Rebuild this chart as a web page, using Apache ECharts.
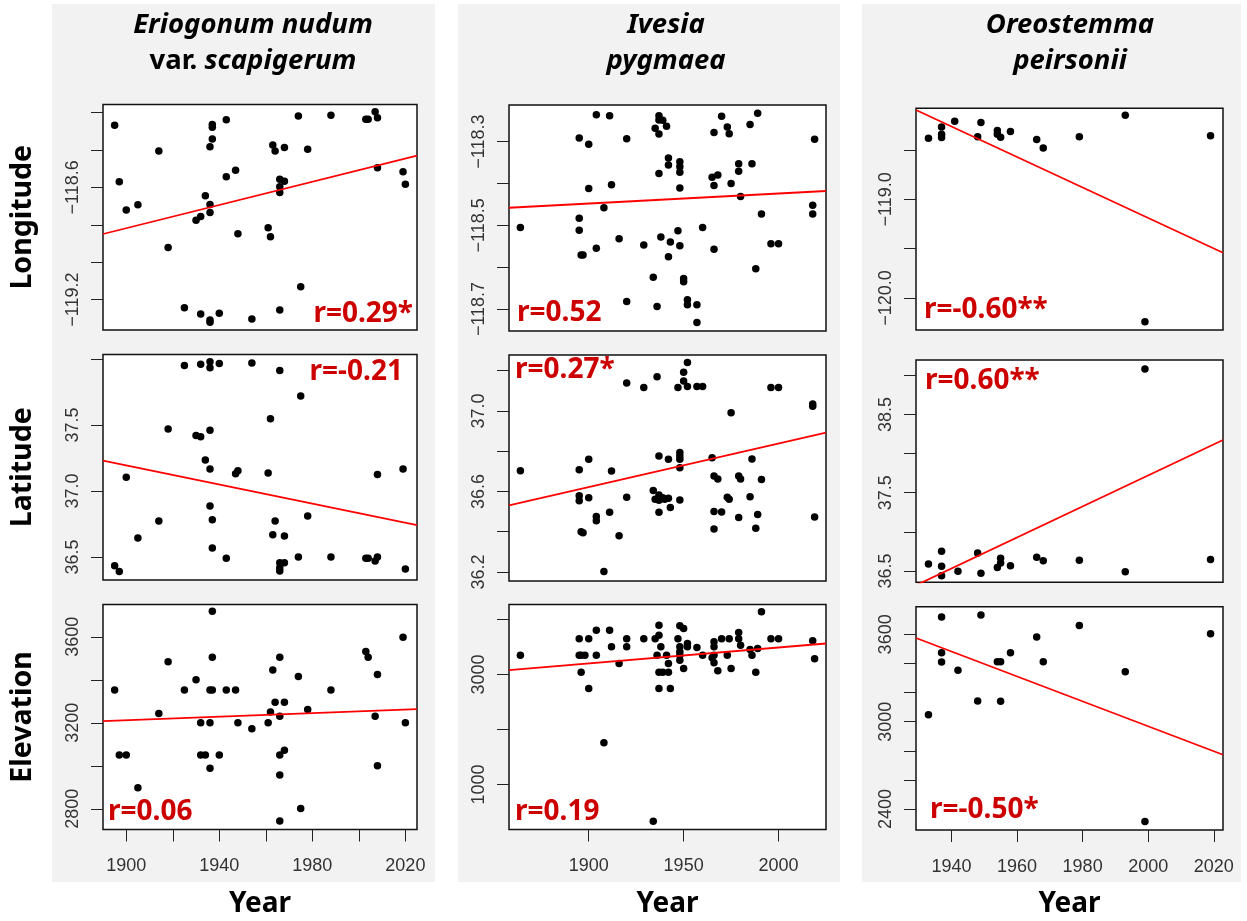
<!DOCTYPE html>
<html><head><meta charset="utf-8">
<script src="https://cdn.jsdelivr.net/npm/echarts@6/dist/echarts.min.js"></script>
<style>html,body{margin:0;padding:0;background:#fff}#c{width:1247px;height:921px}</style>
</head><body><div id="c"></div><script>
// ---------- Eriogonum nudum var. scapigerum ----------
const eriLonYear = [1895,1897,1900,1905,1914,1918,1925,1930,1932,1932,1934,1936,1936,1936,1936,1936,1937,1937,1937,1940,1943,1943,1947,1948,1954,1961,1962,1963,1964,1966,1966,1966,1966,1968,1968,1974,1975,1978,1988,2003,2004,2007,2008,2008,2019,2020];
const eriLon = [-118.268,-118.570,-118.721,-118.693,-118.405,-118.921,-119.243,-118.775,-118.755,-119.277,-118.645,-118.383,-118.691,-118.734,-119.309,-119.321,-118.264,-118.278,-118.342,-119.273,-118.239,-118.543,-118.508,-118.848,-119.303,-118.816,-118.864,-118.374,-118.406,-118.556,-118.597,-118.627,-119.255,-118.567,-118.387,-118.218,-119.131,-118.396,-118.214,-118.236,-118.236,-118.196,-118.228,-118.495,-118.517,-118.583];
const eriLatYear = [1895,1897,1900,1905,1914,1918,1925,1930,1932,1932,1934,1936,1936,1936,1936,1936,1937,1937,1940,1943,1947,1948,1954,1961,1962,1963,1964,1966,1966,1966,1966,1968,1968,1974,1975,1978,1988,2003,2004,2007,2008,2008,2019,2020];
const eriLat = [36.434,36.391,37.104,36.644,36.773,37.470,37.952,37.422,37.412,37.962,37.235,37.167,37.460,36.886,37.980,37.934,36.783,36.568,37.967,36.490,37.131,37.154,37.970,37.136,37.548,36.669,36.773,37.914,36.457,36.419,36.394,36.659,36.457,36.500,37.720,36.811,36.500,36.490,36.490,36.470,36.500,37.126,37.167,36.409];
const eriEleYear = [1895,1897,1900,1905,1914,1918,1925,1930,1932,1932,1934,1936,1936,1936,1937,1937,1937,1940,1943,1947,1948,1954,1961,1962,1963,1964,1966,1966,1966,1966,1966,1968,1968,1974,1975,1978,1988,2003,2004,2007,2008,2008,2019,2020];
const eriEle = [3352,3050,3050,2898,3243,3484,3352,3400,3200,3050,3050,3200,2989,3352,3352,3505,3719,3050,3352,3352,3200,3172,3200,3250,3445,3295,3505,3231,3050,2957,2744,3295,3073,3415,2802,3262,3352,3532,3505,3231,3425,3000,3598,3200];
const eriLonFit = [[1890,-118.849],[2025,-118.430]];
const eriLatFit = [[1890,37.230],[2025,36.742]];
const eriEleFit = [[1890,3208],[2025,3264]];
const eriR = ['r=0.29*','r=-0.21','r=0.06'];

// ---------- Ivesia pygmaea ----------
const ivLonYear = [1864,1895,1895,1895,1896,1897,1900,1900,1904,1904,1908,1911,1912,1916,1920,1920,1929,1934,1935,1936,1937,1937,1937,1937,1938,1939,1941,1942,1942,1942,1943,1947,1948,1948,1948,1948,1948,1950,1950,1952,1952,1957,1957,1960,1965,1966,1966,1966,1968,1970,1973,1974,1975,1979,1979,1980,1985,1986,1988,1989,1991,1996,2000,2018,2018,2019];
const ivLon = [-118.505,-118.291,-118.483,-118.512,-118.571,-118.571,-118.306,-118.412,-118.236,-118.555,-118.458,-118.238,-118.403,-118.532,-118.293,-118.682,-118.547,-118.624,-118.268,-118.694,-118.238,-118.248,-118.282,-118.376,-118.528,-118.249,-118.263,-118.339,-118.356,-118.575,-118.540,-118.513,-118.348,-118.360,-118.373,-118.411,-118.549,-118.627,-118.635,-118.678,-118.690,-118.690,-118.732,-118.505,-118.385,-118.405,-118.557,-118.278,-118.380,-118.239,-118.265,-118.281,-118.400,-118.353,-118.371,-118.431,-118.259,-118.353,-118.604,-118.232,-118.473,-118.544,-118.544,-118.452,-118.473,-118.294];
const ivLatYear = [1864,1895,1895,1895,1896,1897,1900,1900,1904,1904,1908,1911,1912,1916,1920,1920,1929,1934,1935,1936,1937,1937,1937,1937,1939,1940,1942,1942,1943,1947,1948,1948,1948,1948,1948,1950,1950,1952,1952,1957,1960,1965,1966,1966,1966,1968,1970,1973,1974,1975,1979,1980,1979,1985,1986,1988,1989,1991,1996,2000,2018,2018,2019];
const ivLat = [36.703,36.708,36.579,36.554,36.400,36.395,36.760,36.569,36.475,36.455,36.202,36.496,36.702,36.380,37.139,36.571,37.116,36.605,36.561,37.170,36.776,36.582,36.556,36.496,36.569,36.561,36.760,36.566,36.520,37.116,36.793,36.776,36.760,36.718,36.558,37.192,37.149,37.241,37.122,37.122,37.121,36.768,36.677,36.500,36.414,36.662,36.498,36.571,36.561,36.991,36.677,36.662,36.470,36.574,36.761,36.417,36.486,36.659,37.116,37.116,37.034,37.023,36.473];
const ivEleYear = [1864,1895,1895,1896,1896,1898,1900,1900,1904,1904,1908,1911,1912,1916,1920,1920,1929,1934,1935,1936,1937,1937,1937,1937,1938,1939,1941,1942,1942,1943,1947,1948,1948,1948,1948,1948,1950,1950,1952,1952,1957,1960,1965,1966,1966,1966,1966,1968,1970,1973,1974,1975,1979,1979,1980,1985,1986,1988,1989,1991,1996,2000,2018,2019];
const ivEle = [3352,3648,3352,3042,3352,3352,3648,2745,3806,3352,1758,3806,3503,3200,3648,3503,3648,333,3648,3352,3897,3715,3042,2745,3503,3042,3352,3200,3042,2745,3648,3885,3503,3412,3352,3261,3836,3109,3564,3503,3491,3352,3303,3594,3503,3352,3212,3067,3648,3352,3648,3109,3764,3648,3533,3455,3352,3042,3473,4139,3648,3648,3612,3285];
const ivLonFit = [[1858,-118.458],[2025,-118.418]];
const ivLatFit = [[1858,36.531],[2025,36.892]];
const ivEleFit = [[1858,3079],[2025,3564]];
const ivR = ['r=0.52','r=0.27*','r=0.19'];

// ---------- Oreostemma peirsonii ----------
const orLonYear = [1933,1937,1937,1937,1941,1948,1949,1954,1954,1955,1958,1966,1968,1979,1993,1999,2019];
const orLon = [-118.382,-118.267,-118.341,-118.375,-118.209,-118.365,-118.223,-118.304,-118.341,-118.372,-118.314,-118.395,-118.480,-118.365,-118.149,-120.240,-118.355];
const orLatYear = [1933,1937,1937,1937,1942,1948,1949,1954,1955,1955,1958,1966,1968,1979,1993,1999,2019];
const orLat = [36.589,36.751,36.560,36.440,36.496,36.730,36.470,36.543,36.662,36.602,36.568,36.675,36.632,36.636,36.491,39.081,36.645];
const orEleYear = [1933,1937,1937,1937,1942,1948,1949,1954,1955,1955,1958,1966,1968,1979,1993,1999,2019];
const orEle = [3048,3719,3474,3410,3353,3142,3733,3412,3412,3140,3474,3582,3412,3660,3343,2315,3605];
const orLonFit = [[1929.2,-118.095],[2022.8,-119.541]];
const orLatFit = [[1929.2,36.317],[2022.8,38.174]];
const orEleFit = [[1929.2,3575],[2022.8,2773]];
const orR = ['r=-0.60**','r=0.60**','r=-0.50*'];

// ---------- tick values ----------
const eriXTicks = [1900,1920,1940,1960,1980,2000,2020];
const eriXLabels = [1900,1940,1980,2020];
const ivXTicks = [1900,1950,2000];
const ivXLabels = [1900,1950,2000];
const orXTicks = [1940,1960,1980,2000,2020];
const orXLabels = [1940,1960,1980,2000,2020];

const eriLonTicks = [-119.2,-119.0,-118.8,-118.6,-118.4,-118.2], eriLonLabels = [-119.2,-118.6];
const eriLatTicks = [36.5,37.0,37.5,38.0], eriLatLabels = [36.5,37.0,37.5];
const eriEleTicks = [2800,3000,3200,3400,3600], eriEleLabels = [2800,3200,3600];
const ivLonTicks = [-118.7,-118.6,-118.5,-118.4,-118.3], ivLonLabels = [-118.7,-118.5,-118.3];
const ivLatTicks = [36.2,36.4,36.6,36.8,37.0,37.2], ivLatLabels = [36.2,36.6,37.0];
const ivEleTicks = [1000,2000,3000,4000], ivEleLabels = [1000,3000];
const orLonTicks = [-120.0,-119.5,-119.0,-118.5], orLonLabels = [-120.0,-119.0];
const orLatTicks = [36.5,37.0,37.5,38.0,38.5,39.0], orLatLabels = [36.5,37.5,38.5];
const orEleTicks = [2400,2600,2800,3000,3200,3400,3600], orEleLabels = [2400,3000,3600];

const rowNames = ['Longitude','Latitude','Elevation'];

// ---------- layout ----------
const cols = [
  { boxes: [[103,104.5,314,225.5],[103,354.5,314,225.5],[103,604.5,314,225]],
    xRange: [1890,2025], xTicks: eriXTicks, xLabels: eriXLabels,
    panels: [
      {x: eriLonYear, y: eriLon, fit: eriLonFit, yr: [-119.362,-118.157], t: eriLonTicks, l: eriLonLabels, d: 1},
      {x: eriLatYear, y: eriLat, fit: eriLatFit, yr: [36.326,38.035], t: eriLatTicks, l: eriLatLabels, d: 1},
      {x: eriEleYear, y: eriEle, fit: eriEleFit, yr: [2704,3750], t: eriEleTicks, l: eriEleLabels, d: 0}],
    r: eriR, rPos: [[413,314,'right'],[403,372,'right'],[108,812,'left']],
    title: ['{i|Eriogonum nudum}','{n|var. }{i|scapigerum}'], tx: 253, bg: [52,383] },
  { boxes: [[509,105,317,226],[509,355,317,226],[509,604.5,317,225]],
    xRange: [1858,2025], xTicks: ivXTicks, xLabels: ivXLabels,
    panels: [
      {x: ivLonYear, y: ivLon, fit: ivLonFit, yr: [-118.7526,-118.2124], t: ivLonTicks, l: ivLonLabels, d: 1},
      {x: ivLatYear, y: ivLat, fit: ivLatFit, yr: [36.155,37.278], t: ivLatTicks, l: ivLatLabels, d: 1},
      {x: ivEleYear, y: ivEle, fit: ivEleFit, yr: [182,4273], t: ivEleTicks, l: ivEleLabels, d: 0}],
    r: ivR, rPos: [[517,313,'left'],[515,370,'left'],[515,812,'left']],
    title: ['{i|Ivesia}','{i|pygmaea}'], tx: 666, bg: [458,382] },
  { boxes: [[916,108.3,307,221.7],[916,360,307,222.3],[916,606.7,307,223.3]],
    xRange: [1929.2,2022.8], xTicks: orXTicks, xLabels: orXLabels,
    panels: [
      {x: orLonYear, y: orLon, fit: orLonFit, yr: [-120.324,-118.078], t: orLonTicks, l: orLonLabels, d: 1},
      {x: orLatYear, y: orLat, fit: orLatFit, yr: [36.355,39.196], t: orLatTicks, l: orLatLabels, d: 1},
      {x: orEleYear, y: orEle, fit: orEleFit, yr: [2256,3790], t: orEleTicks, l: orEleLabels, d: 0}],
    r: orR, rPos: [[924,310,'left'],[925,381,'left'],[930,810,'left']],
    title: ['{i|Oreostemma}','{i|peirsonii}'], tx: 1070, bg: [862,379] }
];

const fmt = d => v => (v < 0 ? '\u2212' : '') + Math.abs(v).toFixed(d);
const tickStyle = { color: '#222', width: 1 };
const labelFont = 'Liberation Sans';
const boldFont = 'Noto Sans';

const grid = [], xAxis = [], yAxis = [], series = [], graphic = [];
cols.forEach((c, ci) => {
  graphic.push({ type: 'rect', z: -100, silent: true, shape: { x: c.bg[0], y: 4, width: c.bg[1], height: 878 }, style: { fill: '#f2f2f2' } });
  c.panels.forEach((p, ri) => {
    const b = c.boxes[ri];
    const gi = grid.length;
    grid.push({ left: b[0], top: b[1], width: b[2], height: b[3], show: true, backgroundColor: '#fff', borderColor: '#111', borderWidth: 1.5, containLabel: false, outerBoundsMode: 'none' });
    const bottom = ri === 2;
    xAxis.push({ type: 'value', gridIndex: gi, min: c.xRange[0], max: c.xRange[1],
      axisLine: { show: false, onZero: false }, splitLine: { show: false },
      axisTick: { show: bottom, customValues: c.xTicks, length: 12, lineStyle: tickStyle },
      axisLabel: { show: bottom, customValues: c.xLabels, margin: 28, fontSize: 18, fontFamily: labelFont, color: '#333', formatter: v => String(v) } });
    yAxis.push({ type: 'value', gridIndex: gi, min: p.yr[0], max: p.yr[1],
      axisLine: { show: false, onZero: false }, splitLine: { show: false },
      axisTick: { show: true, customValues: p.t, length: 12, lineStyle: tickStyle },
      axisLabel: { show: true, customValues: p.l, rotate: 90, margin: 21, fontSize: 18, fontFamily: labelFont, color: '#333', formatter: fmt(p.d) } });
    series.push({ type: 'scatter', xAxisIndex: gi, yAxisIndex: gi, symbol: 'circle', symbolSize: 7.5,
      itemStyle: { color: '#000', opacity: 1 }, silent: true, z: 2,
      data: p.x.map((yr, k) => [yr, p.y[k]]) });
    series.push({ type: 'line', xAxisIndex: gi, yAxisIndex: gi, symbol: 'none', clip: true, silent: true, z: 3,
      lineStyle: { color: '#ff0000', width: 1.8 }, data: p.fit });
    const rp = c.rPos[ri];
    graphic.push({ type: 'text', z: 10, silent: true, x: rp[0], y: rp[1],
      style: { text: c.r[ri], fill: '#cd0000', font: 'bold 28px "' + boldFont + '"', textAlign: rp[2], textVerticalAlign: 'middle', align: rp[2], verticalAlign: 'middle' } });
  });
  const cx = c.boxes[0][0] + c.boxes[0][2] / 2;
  // titles
  const rich = { i: { fontFamily: boldFont, fontWeight: 'bold', fontStyle: 'italic', fontSize: 27.5, fill: '#000', color: '#000' },
                 n: { fontFamily: boldFont, fontWeight: 'bold', fontStyle: 'normal', fontSize: 27.5, fill: '#000', color: '#000' } };
  [25, 61].forEach((ty, li) => {
    graphic.push({ type: 'text', z: 10, silent: true, x: c.tx, y: ty,
      style: { text: c.title[li], rich: rich, fill: '#000', font: 'italic bold 27.5px "' + boldFont + '"', textAlign: 'center', textVerticalAlign: 'middle', align: 'center', verticalAlign: 'middle' } });
  });
  graphic.push({ type: 'text', z: 10, silent: true, x: cx, y: 904,
    style: { text: 'Year', fill: '#000', font: 'bold 28px "' + boldFont + '"', textAlign: 'center', textVerticalAlign: 'middle', align: 'center', verticalAlign: 'middle' } });
});
cols[0].boxes.forEach((b, ri) => {
  graphic.push({ type: 'text', z: 10, silent: true, x: 23, y: b[1] + b[3] / 2, rotation: Math.PI / 2,
    style: { text: rowNames[ri], fill: '#000', font: 'bold 28.5px "' + boldFont + '"', textAlign: 'center', textVerticalAlign: 'middle', align: 'center', verticalAlign: 'middle' } });
});

const chart = echarts.init(document.getElementById('c'), null, { renderer: 'canvas' });
chart.setOption({ animation: false, backgroundColor: '#fff', grid, xAxis, yAxis, series, graphic });
</script></body></html>
